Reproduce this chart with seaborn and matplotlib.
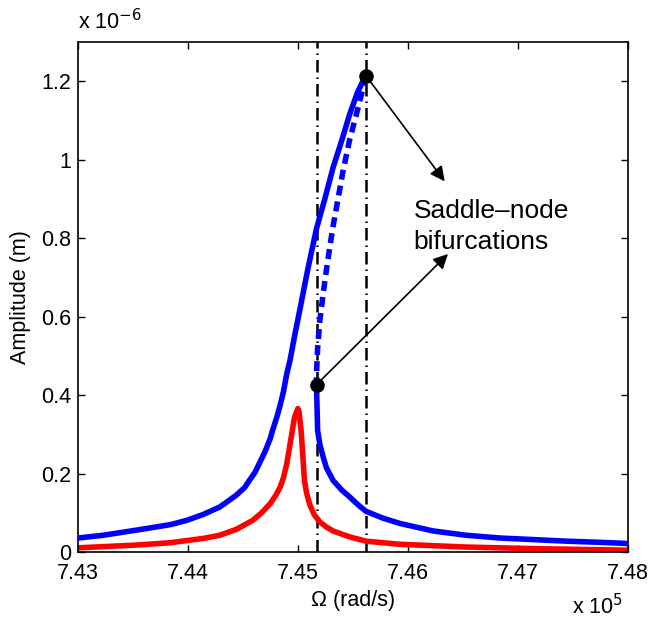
import numpy as np
import pandas as pd
import seaborn as sns
import matplotlib.pyplot as plt

# values (Omega in 1e5 rad/s, amplitude in 1e-6 m)
blue_up_w = [7.4300, 7.4323, 7.4353, 7.4384, 7.4399, 7.4414, 7.4429, 7.4444, 7.44518,
             7.4456, 7.4461, 7.4465, 7.4470, 7.4475, 7.4477, 7.4481, 7.4484, 7.4487,
             7.4490, 7.4493, 7.4497, 7.4502, 7.4509, 7.4517, 7.4525, 7.4532, 7.4540,
             7.4547, 7.4554, 7.4559, 7.4562]
blue_up_a = [0.036, 0.043, 0.056, 0.070, 0.081, 0.096, 0.115, 0.145, 0.165,
             0.183, 0.203, 0.226, 0.255, 0.290, 0.310, 0.345, 0.375, 0.410,
             0.455, 0.490, 0.550, 0.620, 0.720, 0.825, 0.905, 0.980, 1.050,
             1.115, 1.170, 1.200, 1.214]

unstable_w = [7.4562, 7.4555, 7.4547, 7.4541, 7.4532, 7.4529, 7.4525, 7.4523,
              7.4520, 7.4518, 7.45172, 7.4517]
unstable_a = [1.214, 1.135, 1.050, 0.970, 0.830, 0.777, 0.700, 0.658,
              0.590, 0.520, 0.470, 0.427]

blue_low_w = [7.4517, 7.45172, 7.4518, 7.4520, 7.4523, 7.4526, 7.4532, 7.4540,
              7.4547, 7.4555, 7.4562, 7.4577, 7.4593, 7.4623, 7.4653, 7.4684,
              7.4714, 7.4744, 7.4775, 7.4800]
blue_low_a = [0.427, 0.400, 0.310, 0.275, 0.243, 0.215, 0.183, 0.158,
              0.141, 0.120, 0.104, 0.087, 0.073, 0.054, 0.043, 0.036,
              0.032, 0.028, 0.025, 0.022]

red_w = [7.4300, 7.4353, 7.4384, 7.4414, 7.4429, 7.4444, 7.4459, 7.4467, 7.4475,
         7.4480, 7.4484, 7.4487, 7.4490, 7.4494, 7.4497, 7.4500, 7.4501, 7.4503,
         7.4505, 7.4506, 7.4508, 7.4511, 7.4515, 7.4520, 7.4526, 7.4532, 7.4547,
         7.4562, 7.4593, 7.4653, 7.4714, 7.4800]
red_a = [0.011, 0.018, 0.024, 0.035, 0.043, 0.058, 0.081, 0.100, 0.124,
         0.145, 0.166, 0.190, 0.226, 0.293, 0.344, 0.366, 0.360, 0.310,
         0.226, 0.183, 0.150, 0.120, 0.095, 0.077, 0.064, 0.054, 0.039,
         0.028, 0.020, 0.013, 0.009, 0.005]

sn_w = [7.4562, 7.4517]
sn_a = [1.214, 0.427]

sns.set_style("ticks")
plt.rcParams['font.family'] = ['Liberation Sans', 'DejaVu Sans']
plt.rcParams['xtick.direction'] = 'in'
plt.rcParams['ytick.direction'] = 'in'
for key in ['text.color', 'axes.labelcolor', 'xtick.color', 'ytick.color', 'axes.edgecolor']:
    plt.rcParams[key] = 'black'

fig = plt.figure(figsize=(6.48, 6.19), dpi=100)
ax = fig.add_axes([0.120, 0.108, 0.849, 0.824])

# saddle-node frequencies
for w in sn_w:
    ax.axvline(w, color='black', lw=1.8, ls=(0, (5, 2, 0.6, 2)), zorder=1)

sns.lineplot(x=red_w, y=red_a, sort=False, color='#ff0000', lw=4, ax=ax, zorder=2)
sns.lineplot(x=blue_up_w, y=blue_up_a, sort=False, color='#0000ff', lw=4, ax=ax, zorder=3)
sns.lineplot(x=blue_low_w, y=blue_low_a, sort=False, color='#0000ff', lw=4, ax=ax, zorder=3)
sns.lineplot(x=unstable_w, y=unstable_a, sort=False, color='#0000ff', lw=4,
             ls=(0, (1.8, 1.1)), ax=ax, zorder=3)
sns.scatterplot(x=sn_w, y=sn_a, color='black', s=110, ax=ax, zorder=5, linewidth=0)

# arrows + label
arrow = dict(arrowstyle='-|>', color='black', lw=1.2, mutation_scale=22,
             shrinkA=0, shrinkB=0)
ax.annotate('', xy=(7.46335, 0.945), xytext=(sn_w[0], sn_a[0]), arrowprops=arrow)
ax.annotate('', xy=(7.46365, 0.76), xytext=(sn_w[1], sn_a[1]), arrowprops=arrow)
ax.text(7.4605, 0.83, 'Saddle\u2013node\nbifurcations', fontsize=19,
        ha='left', va='center', linespacing=1.35)

ax.set_xlim(7.43, 7.48)
ax.set_ylim(0, 1.3)
ax.set_xticks([7.43, 7.44, 7.45, 7.46, 7.47, 7.48])
ax.set_xticklabels(['7.43', '7.44', '7.45', '7.46', '7.47', '7.48'])
ax.set_yticks([0, 0.2, 0.4, 0.6, 0.8, 1.0, 1.2])
ax.set_yticklabels(['0', '0.2', '0.4', '0.6', '0.8', '1', '1.2'])
ax.tick_params(labelsize=15.5, length=5, width=1, top=True, right=True)
ax.tick_params(axis='x', pad=8)
ax.tick_params(axis='y', pad=5)
for s in ax.spines.values():
    s.set_linewidth(1.2)
    s.set_visible(True)

ax.set_xlabel('\u03a9 (rad/s)', fontsize=15.5, labelpad=4)
ax.set_ylabel('Amplitude (m)', fontsize=15.5, labelpad=7)

fig.text(0.120, 0.945, 'x 10$^{-6}$', fontsize=15.5, ha='left', va='bottom')
fig.text(0.962, 0.0, 'x 10$^{5}$', fontsize=15.5, ha='right', va='bottom')

fig.savefig('out.png', dpi=100)
